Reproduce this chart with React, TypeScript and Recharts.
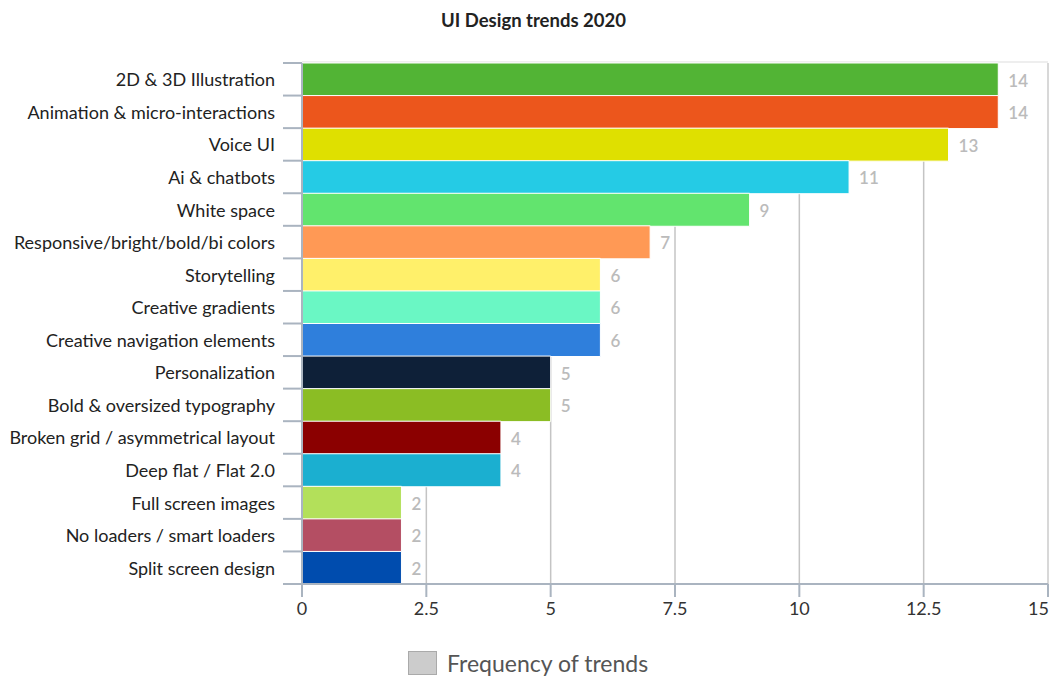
import React from "react";
import { BarChart, Bar, XAxis, YAxis, CartesianGrid, Cell, LabelList } from "recharts";

const categories = [
  "2D & 3D Illustration",
  "Animation & micro-interactions",
  "Voice UI",
  "Ai & chatbots",
  "White space",
  "Responsive/bright/bold/bi colors",
  "Storytelling",
  "Creative gradients",
  "Creative navigation elements",
  "Personalization",
  "Bold & oversized typography",
  "Broken grid / asymmetrical layout",
  "Deep flat / Flat 2.0",
  "Full screen images",
  "No loaders / smart loaders",
  "Split screen design",
];
const values = [14, 14, 13, 11, 9, 7, 6, 6, 6, 5, 5, 4, 4, 2, 2, 2];
const colors = [
  "#52b435", "#ec561c", "#dfe000", "#25cbe5", "#62e46e", "#ff9955", "#fff06a", "#6af7c4",
  "#2f7fdc", "#0e2038", "#8bbd24", "#8b0000", "#1bafd0", "#b3e05a", "#b44e63", "#004cae",
];
const xTicks = [0, 2.5, 5, 7.5, 10, 12.5, 15];
const title = "UI Design trends 2020";
const seriesName = "Frequency of trends";

const data = categories.map((c, i) => ({ name: c, value: values[i] }));

const W = 1055;
const H = 677;
const M = { top: 63, right: 7, left: 0, bottom: 53 };
const X_AXIS_H = 40;
const PLOT_H = H - M.top - M.bottom - X_AXIS_H;
const BAND = PLOT_H / categories.length;
const AXIS_COLOR = "#aab4c0";
const FONT = "Lato, 'Open Sans', sans-serif";

const YTick = (props: any) => {
  const { x, y, payload, index } = props;
  const last = index === categories.length - 1;
  return (
    <g>
      <text x={x - 27} y={y} dy={7} textAnchor="end" fontSize={18} fill="#222" fontFamily={FONT}>
        {payload.value}
      </text>
      <line x1={x - 19} x2={x} y1={y - BAND / 2} y2={y - BAND / 2} stroke={AXIS_COLOR} strokeWidth={2} />
      {last && (
        <line x1={x - 19} x2={x} y1={y + BAND / 2} y2={y + BAND / 2} stroke={AXIS_COLOR} strokeWidth={2} />
      )}
    </g>
  );
};

const XTick = (props: any) => {
  const { x, y, payload, index } = props;
  const last = index === xTicks.length - 1;
  return (
    <text
      x={last ? x + 1 : x}
      y={y}
      dy={16}
      textAnchor={last ? "end" : "middle"}
      fontSize={18}
      fill="#333"
      fontFamily={FONT}
    >
      {payload.value}
    </text>
  );
};

const ValueLabel = (props: any) => {
  const { x, y, width, height, value } = props;
  return (
    <text
      x={x + width + 10}
      y={y + height / 2}
      dy={7}
      textAnchor="start"
      fill="#bbbbbb"
      fontSize={17}
      fontWeight={600}
      fontFamily={FONT}
    >
      {value}
    </text>
  );
};

export default function App() {
  return (
    <div style={{ position: "absolute", left: 0, top: 0, width: W, height: H, fontFamily: FONT, background: "#fff" }}>
      <div
        style={{
          position: "absolute",
          top: 9,
          left: 0,
          width: W,
          textAlign: "center",
          fontSize: 18.5,
          fontWeight: 700,
          color: "#222",
          fontFamily: FONT,
          paddingLeft: 6,
        }}
      >
        {title}
      </div>
      <BarChart width={W} height={H} data={data} layout="vertical" margin={M} barCategoryGap={0}>
        <CartesianGrid horizontal={false} stroke="#c4c4c4" strokeWidth={1.5} />
        <CartesianGrid
          stroke="#dddddd"
          strokeWidth={1}
          horizontalCoordinatesGenerator={({ offset }: any) => [offset.top - 1]}
          verticalCoordinatesGenerator={({ offset }: any) => [offset.left + offset.width]}
        />
        <XAxis
          type="number"
          domain={[0, 15]}
          ticks={xTicks}
          interval={0}
          height={X_AXIS_H}
          axisLine={{ stroke: AXIS_COLOR, strokeWidth: 2 }}
          tickLine={{ stroke: AXIS_COLOR, strokeWidth: 2 }}
          tickSize={13}
          tickMargin={2}
          tick={<XTick />}
        />
        <YAxis
          type="category"
          dataKey="name"
          width={302}
          interval={0}
          axisLine={{ stroke: AXIS_COLOR, strokeWidth: 2 }}
          tickLine={false}
          tickSize={0}
          tickMargin={0}
          tick={<YTick />}
        />
        <Bar dataKey="value" isAnimationActive={false} stroke="#ffffff" strokeWidth={1}>
          {data.map((d, i) => (
            <Cell key={d.name} fill={colors[i]} />
          ))}
          <LabelList dataKey="value" content={<ValueLabel />} />
        </Bar>
      </BarChart>
      <div style={{ position: "absolute", left: 408, top: 651, display: "flex", alignItems: "center" }}>
        <div style={{ width: 27, height: 22, background: "#cccccc", border: "1px solid #aaaaaa" }} />
        <span style={{ marginLeft: 10, fontSize: 23, color: "#555", fontFamily: FONT, lineHeight: "24px" }}>
          {seriesName}
        </span>
      </div>
    </div>
  );
}
